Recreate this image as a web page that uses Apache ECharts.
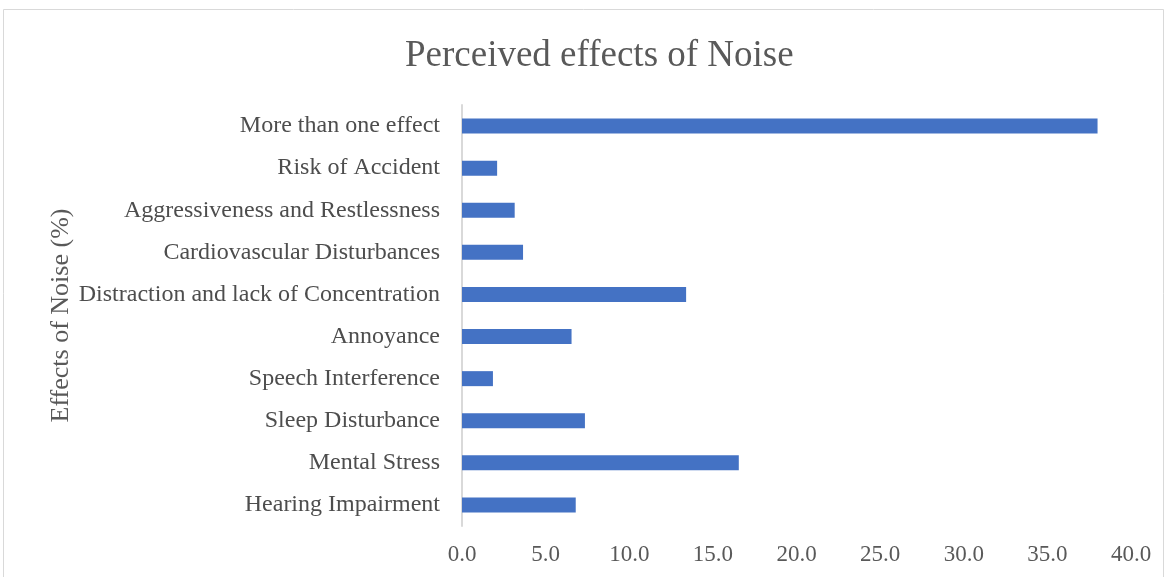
<!DOCTYPE html>
<html>
<head>
<meta charset="utf-8">
<script src="https://cdn.jsdelivr.net/npm/echarts@6/dist/echarts.min.js"></script>
<style>
html, body { margin: 0; padding: 0; background: #ffffff; }
#main { width: 1169px; height: 577px; }
</style>
</head>
<body>
<div id="main"></div>
<script>
// categories listed bottom to top (category axis starts at the bottom)
var categories = [
  "Hearing Impairment",
  "Mental Stress",
  "Sleep Disturbance",
  "Speech Interference",
  "Annoyance",
  "Distraction and lack of Concentration",
  "Cardiovascular Disturbances",
  "Aggressiveness and Restlessness",
  "Risk of Accident",
  "More than one effect"
];
var percentValues = [6.8, 16.55, 7.35, 1.85, 6.55, 13.4, 3.65, 3.15, 2.1, 38.0];
var xTicks = { min: 0, max: 40, interval: 5 };

var serif = "'Liberation Serif', 'DejaVu Serif', serif";

var myChart = echarts.init(document.getElementById("main"));
myChart.setOption({
  animation: false,
  backgroundColor: "#ffffff",
  graphic: [
    {
      type: "rect",
      shape: { x: 3.5, y: 9.5, width: 1160, height: 600 },
      style: { fill: "none", stroke: "#d9d9d9", lineWidth: 1 },
      silent: true
    }
  ],
  title: {
    text: "Perceived effects of Noise",
    left: 400,
    top: 33,
    textStyle: {
      fontFamily: serif,
      fontSize: 37,
      fontWeight: "normal",
      color: "#595959"
    }
  },
  grid: {
    left: 462,
    right: 38,
    top: 105,
    bottom: 51
  },
  xAxis: {
    type: "value",
    min: xTicks.min,
    max: xTicks.max,
    interval: xTicks.interval,
    axisLine: { show: false },
    axisTick: { show: false },
    splitLine: { show: false },
    axisLabel: {
      margin: 17,
      fontFamily: serif,
      fontSize: 23,
      color: "#595959",
      formatter: function (v) { return v.toFixed(1); }
    }
  },
  yAxis: {
    type: "category",
    data: categories,
    name: "Effects of Noise (%)",
    nameLocation: "middle",
    nameGap: 388,
    nameMoveOverlap: false,
    nameRotate: 90,
    nameTextStyle: {
      fontFamily: serif,
      fontSize: 26,
      color: "#595959"
    },
    axisLine: { show: true, lineStyle: { color: "#d9d9d9", width: 2 } },
    axisTick: { show: false },
    axisLabel: {
      margin: 22,
      fontFamily: serif,
      fontSize: 24,
      color: "#4d4d4d"
    }
  },
  series: [
    {
      type: "bar",
      data: percentValues,
      barWidth: 15,
      itemStyle: { color: "#4472c4" }
    }
  ]
});
</script>
</body>
</html>
